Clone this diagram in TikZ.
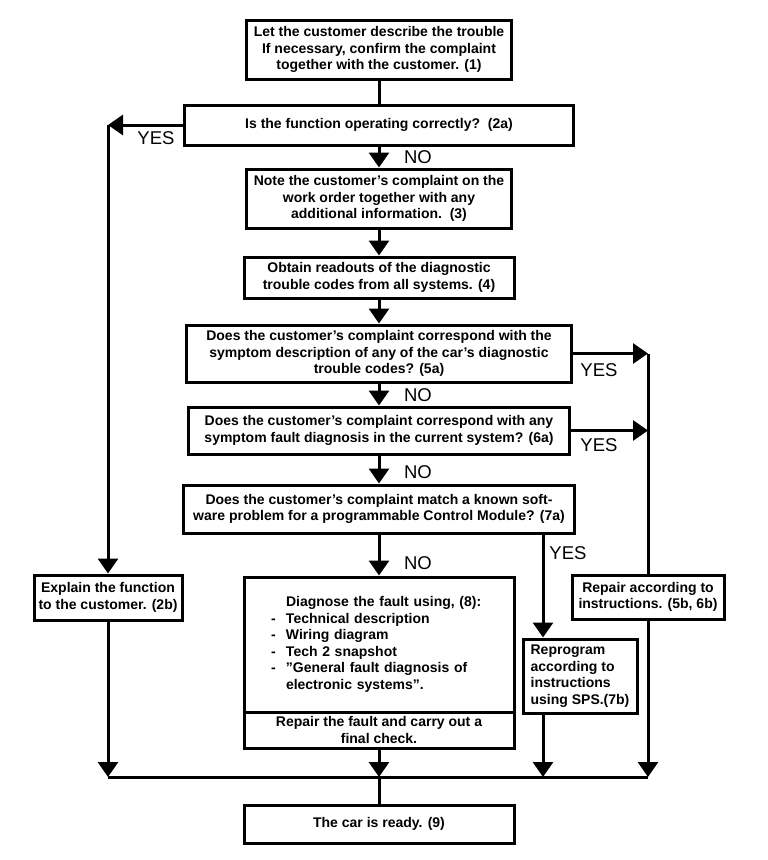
\documentclass[tikz,border=0pt]{standalone}
\usepackage{fontspec}
\setmainfont{Liberation Sans}
\usetikzlibrary{arrows.meta, positioning}
\newcommand{\diagitem}{\hspace*{25pt}\makebox[15pt][l]{-}}
\newcommand{\dq}{\symbol{34}}

\begin{document}
\begin{tikzpicture}[x=1pt, y=-1pt,
  proc/.style={rectangle, draw=black, line width=3pt, fill=white, align=center,
               inner sep=2pt, font=\bfseries\fontsize{14}{16.5}\selectfont},
  arr/.style={-{Triangle[length=15pt,width=20pt]}, line width=3pt},
  link/.style={line width=3pt},
  yn/.style={font=\fontsize{18.5}{20}\selectfont}
]
  \useasboundingbox (0,0) rectangle (768,860);

  % Main column
  \node[proc, minimum width=265pt, minimum height=59pt] (describe) at (379,49.5)
    {Let the customer describe the trouble\\If necessary, confirm the complaint\\together with the customer. (1)};
  \node[proc, minimum width=389pt, minimum height=40pt] (q2a) at (379,125)
    {Is the function operating correctly?\ \ (2a)};
  \node[proc, minimum width=265pt, minimum height=59pt] (note) at (379,198.5)
    {Note the customer's complaint on the\\work order together with any\\additional information.\ \ (3)};
  \node[proc, minimum width=270pt, minimum height=41pt] (readout) at (379,277.5)
    {Obtain readouts of the diagnostic\\trouble codes from all systems. (4)};
  \node[proc, minimum width=385pt, minimum height=57pt] (q5a) at (379,353.5)
    {Does the customer's complaint correspond with the\\symptom description of any of the car's diagnostic\\trouble codes? (5a)};
  \node[proc, minimum width=381pt, minimum height=47pt] (q6a) at (379,430.5)
    {Does the customer's complaint correspond with any\\symptom fault diagnosis in the current system? (6a)};
  \node[proc, minimum width=391pt, minimum height=48pt] (q7a) at (379,509)
    {Does the customer's complaint match a known soft-\\ware problem for a programmable Control Module? (7a)};

  % Diagnosis box
  \node[proc, minimum width=270pt, minimum height=135pt, align=left, text width=266pt] (diag) at (379,644.5)
    {\hspace*{40pt}Diagnose the fault using, (8):\\
     \diagitem Technical description\\
     \diagitem Wiring diagram\\
     \diagitem Tech 2 snapshot\\
     \diagitem \dq General fault diagnosis of\\
     \hspace*{40pt}electronic systems\dq.};
  \node[proc, minimum width=270pt, minimum height=36pt, inner ysep=1pt] (repfix) at (379,730)
    {Repair the fault and carry out a\\final check.};

  % Side boxes
  \node[proc, minimum width=148pt, minimum height=45pt] (explain) at (108,597.5)
    {Explain the function\\to the customer. (2b)};
  \node[proc, minimum width=152pt, minimum height=44pt] (repair) at (648,597)
    {Repair according to\\instructions. (5b, 6b)};
  \node[proc, minimum width=114pt, minimum height=74pt, align=left] (reprog) at (580,676)
    {Reprogram\\according to\\instructions\\using SPS.(7b)};

  \node[proc, minimum width=270pt, minimum height=38pt] (ready) at (379,824)
    {The car is ready. (9)};

  \coordinate (yesL) at (108,125);
  \coordinate (yes7) at (543,533);
  \coordinate (bus) at (379,777);

  % Main flow
  \draw[link] (describe) -- (q2a);
  \draw[arr] (q2a) -- (note);
  \draw[arr] (note) -- (readout);
  \draw[arr] (readout) -- (q5a);
  \draw[arr] (q5a) -- (q6a);
  \draw[arr] (q6a) -- (q7a);
  \draw[arr] (q7a) -- (diag);

  % YES branches
  \draw[arr] (q2a.west) -- (yesL);
  \draw[arr] (yesL) -- (explain.north);
  \draw[arr] (q5a.east) -- (q5a.east -| repair.north);
  \draw[arr] (q6a.east) -- (q6a.east -| repair.north);
  \draw[link] (q5a.east -| repair.north) -- (repair.north);
  \draw[arr] (yes7) -- (yes7 |- reprog.north);

  % Collecting line
  \draw[arr] (explain.south) -- (explain.south |- bus);
  \draw[arr] (repfix.south) -- (bus);
  \draw[arr] (yes7 |- reprog.south) -- (yes7 |- bus);
  \draw[arr] (repair.south) -- (repair.south |- bus);
  \draw[link] (explain.south |- bus) -- (repair.south |- bus);
  \draw[link] (bus) -- (ready);

  % Labels
  \node[yn] (yes2) at (156,138) {YES};
  \node[yn] (no2) at (418,157) {NO};
  \node[yn] (yes5) at (599,370) {YES};
  \node[yn] (no5) at (418,395) {NO};
  \node[yn] (yes6) at (599,445) {YES};
  \node[yn] (no6) at (418,472) {NO};
  \node[yn] (yes7l) at (568,553) {YES};
  \node[yn] (no7) at (418,563) {NO};
\end{tikzpicture}
\end{document}
